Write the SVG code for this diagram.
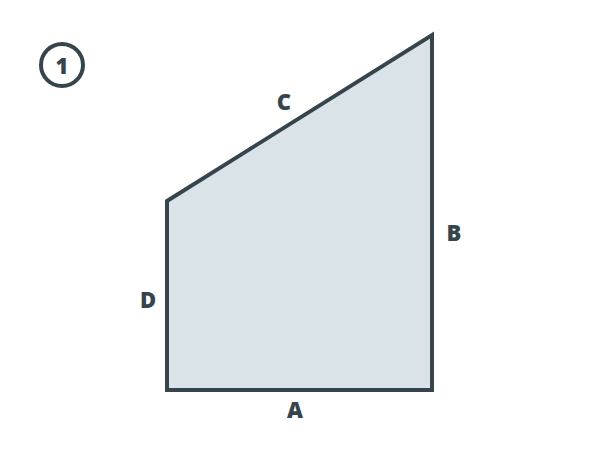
<svg xmlns="http://www.w3.org/2000/svg" width="600" height="450" viewBox="0 0 600 450">
<style>
.lbl{font-family:"Open Sans","Liberation Sans",sans-serif;font-weight:800;font-size:22px;fill:#36444c;text-anchor:middle}
</style>
<rect width="600" height="450" fill="#ffffff"/>
<g id="badge">
<circle cx="62" cy="65" r="21" fill="none" stroke="#36444c" stroke-width="4"/>
<text class="lbl" x="62" y="73.5" font-size="23">1</text>
</g>
<g id="shape">
<polygon points="167,201 432,35 432,390 167,390" fill="#dae3e7" stroke="#36444c" stroke-width="4" stroke-linejoin="miter"/>
</g>
<g id="labels">
<text class="lbl" x="284" y="110">C</text>
<text class="lbl" x="454" y="241">B</text>
<text class="lbl" x="148" y="308">D</text>
<text class="lbl" x="295" y="418">A</text>
</g>
</svg>
